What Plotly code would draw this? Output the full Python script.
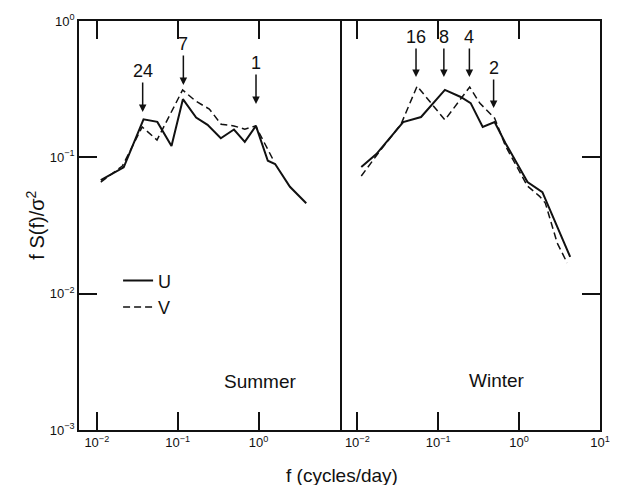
import numpy as np
import plotly.graph_objects as go

# ---- data ----
summer_u_f = [0.0112, 0.0215, 0.0378, 0.056, 0.0838, 0.116, 0.169, 0.234, 0.341, 0.496, 0.675, 0.927, 1.30, 1.60, 2.44, 3.88]
summer_u_s = [0.068, 0.0845, 0.190, 0.182, 0.121, 0.267, 0.196, 0.173, 0.138, 0.160, 0.130, 0.170, 0.0944, 0.0893, 0.0608, 0.046]
summer_v_f = [0.0112, 0.0207, 0.0364, 0.0555, 0.115, 0.166, 0.246, 0.344, 0.496, 0.675, 0.918, 1.52]
summer_v_s = [0.0659, 0.0863, 0.167, 0.134, 0.312, 0.259, 0.226, 0.175, 0.170, 0.161, 0.170, 0.0955]

winter_u_f = [0.0112, 0.0172, 0.0369, 0.0614, 0.121, 0.190, 0.252, 0.355, 0.498, 0.679, 1.27, 1.94, 4.28]
winter_u_s = [0.0849, 0.1057, 0.1815, 0.1976, 0.312, 0.277, 0.250, 0.167, 0.1815, 0.127, 0.0659, 0.0556, 0.0186]
winter_v_f = [0.0112, 0.0182, 0.0348, 0.0549, 0.121, 0.245, 0.326, 0.498, 0.679, 1.27, 1.78, 2.11, 2.96, 3.93]
winter_v_s = [0.0729, 0.1076, 0.1755, 0.333, 0.188, 0.328, 0.250, 0.194, 0.121, 0.0615, 0.0520, 0.0462, 0.0235, 0.0168]

# period labels (days), arrow positions (f) and arrow-head levels
summer_labels = ["24", "7", "1"]
summer_arrow_f = [0.0369, 0.1175, 0.929]
summer_arrow_s = [0.215, 0.339, 0.246]
winter_labels = ["16", "8", "4", "2"]
winter_arrow_f = [0.0532, 0.1175, 0.243, 0.484]
winter_arrow_s = [0.388, 0.388, 0.388, 0.230]

x_tickvals_left = [0.01, 0.1, 1]
x_ticktext_left = ["10<sup>−2</sup>", "10<sup>−1</sup>", "10<sup>0</sup>"]
x_tickvals_right = [0.01, 0.1, 1, 10]
x_ticktext_right = ["10<sup>−2</sup>", "10<sup>−1</sup>", "10<sup>0</sup>", "10<sup>1</sup>"]
y_tickvals = [0.001, 0.01, 0.1, 1]
y_ticktext = ["10<sup>−3</sup>", "10<sup>−2</sup>", "10<sup>−1</sup>", "10<sup>0</sup>"]

FONT = "Liberation Sans, Arial, Helvetica, sans-serif"
BLACK = "#111111"

fig = go.Figure()
fig.add_trace(go.Scatter(x=summer_u_f, y=summer_u_s, mode="lines", name="U",
                         line=dict(color=BLACK, width=2), xaxis="x", yaxis="y"))
fig.add_trace(go.Scatter(x=summer_v_f, y=summer_v_s, mode="lines", name="V",
                         line=dict(color=BLACK, width=1.5, dash="7px,4px"), xaxis="x", yaxis="y"))
fig.add_trace(go.Scatter(x=winter_u_f, y=winter_u_s, mode="lines", showlegend=False,
                         line=dict(color=BLACK, width=2), xaxis="x2", yaxis="y2"))
fig.add_trace(go.Scatter(x=winter_v_f, y=winter_v_s, mode="lines", showlegend=False,
                         line=dict(color=BLACK, width=1.5, dash="7px,4px"), xaxis="x2", yaxis="y2"))

xr = [-2.22, 1.0]
yr = [-3, 0]
common_axis = dict(showgrid=False, zeroline=False, showline=True, linecolor=BLACK, linewidth=1.5,
                   ticks="inside", ticklen=18, tickwidth=1.5, tickcolor=BLACK,
                   tickfont=dict(family=FONT, size=13, color=BLACK))

fig.update_layout(
    width=622, height=485,
    margin=dict(l=79, r=19, t=21, b=55),
    paper_bgcolor="white", plot_bgcolor="white",
    font=dict(family=FONT, color=BLACK),
    xaxis=dict(type="log", range=xr, domain=[0, 0.5], anchor="y", mirror="ticks",
               tickvals=x_tickvals_left, ticktext=x_ticktext_left, **common_axis),
    xaxis2=dict(type="log", range=xr, domain=[0.5, 1], anchor="y2", mirror="ticks",
                tickvals=x_tickvals_right, ticktext=x_ticktext_right, **common_axis),
    yaxis=dict(type="log", range=yr, domain=[0, 1], anchor="x", mirror=True,
               tickvals=y_tickvals, ticktext=y_ticktext, **common_axis),
    yaxis2=dict(type="log", range=yr, domain=[0, 1], anchor="x2", side="right", mirror=False,
                tickvals=[0.01, 0.1], ticktext=["", ""], showticklabels=False, **common_axis),
    legend=dict(x=0.075, y=0.41, xanchor="left", yanchor="top", bgcolor="rgba(0,0,0,0)",
                font=dict(family=FONT, size=18, color=BLACK), tracegroupgap=0, itemwidth=30),
    showlegend=True,
)

anns = []
for lab, f, s in zip(summer_labels, summer_arrow_f, summer_arrow_s):
    anns.append(dict(x=np.log10(f), y=np.log10(s), xref="x", yref="y", text=lab,
                     showarrow=True, arrowhead=2, arrowsize=1, arrowwidth=1.5, arrowcolor=BLACK,
                     ax=0, ay=-41, font=dict(family=FONT, size=18, color=BLACK)))
for lab, f, s in zip(winter_labels, winter_arrow_f, winter_arrow_s):
    anns.append(dict(x=np.log10(f), y=np.log10(s), xref="x2", yref="y2", text=lab,
                     showarrow=True, arrowhead=2, arrowsize=1, arrowwidth=1.5, arrowcolor=BLACK,
                     ax=0, ay=-40, font=dict(family=FONT, size=18, color=BLACK)))
anns.append(dict(x=0.347, y=0.088, xref="paper", yref="paper", text="Summer", showarrow=False,
                 font=dict(family=FONT, size=19, color=BLACK)))
anns.append(dict(x=0.859, y=0.090, xref="paper", yref="paper", text="Winter", showarrow=False,
                 font=dict(family=FONT, size=19, color=BLACK)))
anns.append(dict(x=0.504, y=-0.112, xref="paper", yref="paper", text="f (cycles/day)", showarrow=False,
                 yanchor="middle", font=dict(family=FONT, size=19, color=BLACK)))
anns.append(dict(x=-0.112, y=0.5, xref="paper", yref="paper", text="f S(f)/σ<sup>2</sup>", showarrow=False,
                 textangle=-90, font=dict(family=FONT, size=20, color=BLACK)))
fig.update_layout(annotations=anns)

fig.write_html("out.html")
